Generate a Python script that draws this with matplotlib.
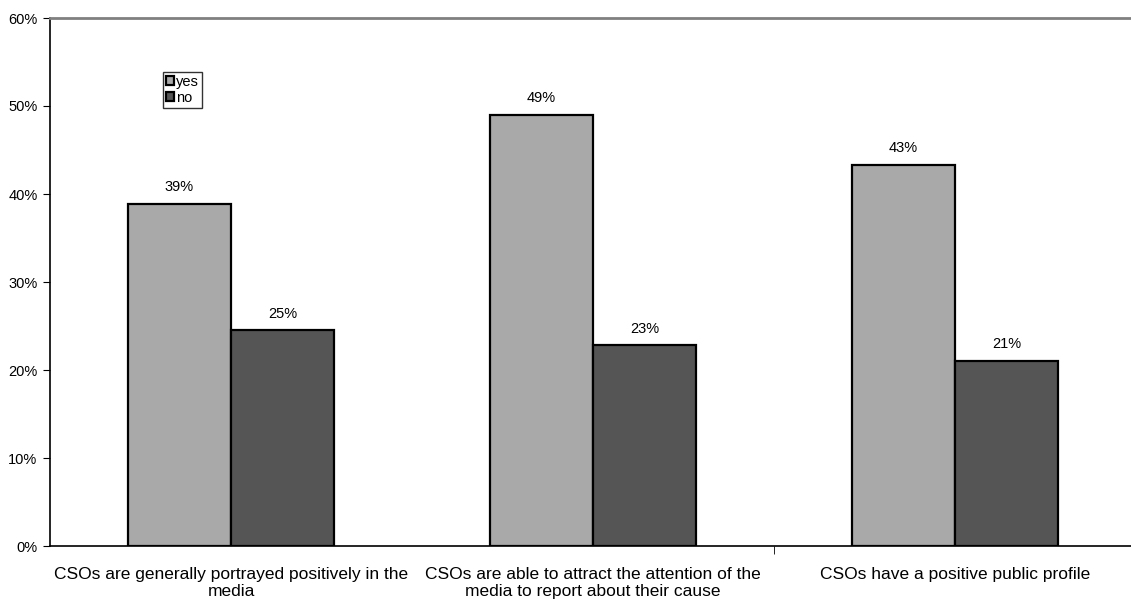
import numpy as np
import matplotlib
matplotlib.use("Agg")
import matplotlib.pyplot as plt
from matplotlib.ticker import FuncFormatter

plt.rcParams['font.family'] = ['Liberation Sans', 'DejaVu Sans']

categories = ["CSOs are generally portrayed positively in the\nmedia",
              "CSOs are able to attract the attention of the\nmedia to report about their cause",
              "CSOs have a positive public profile"]
yes_vals = [38.9, 49.0, 43.3]
no_vals = [24.5, 22.8, 21.0]
yes_labels = ["39%", "49%", "43%"]
no_labels = ["25%", "23%", "21%"]

fig = plt.figure(figsize=(11.31, 5.99), dpi=100)
ax = fig.add_axes([50 / 1131, 53 / 599, 1086 / 1131, 528 / 599])

x = np.arange(len(categories))
w = 0.285
b1 = ax.bar(x - w / 2, yes_vals, w, color='#a9a9a9', edgecolor='black', linewidth=1.6, label='yes')
b2 = ax.bar(x + w / 2, no_vals, w, color='#555555', edgecolor='black', linewidth=1.6, label='no')

for bars, labs in ((b1, yes_labels), (b2, no_labels)):
    for rect, lab in zip(bars, labs):
        ax.annotate(lab, (rect.get_x() + rect.get_width() / 2, rect.get_height()),
                    xytext=(0, 7), textcoords='offset points', ha='center', va='bottom',
                    fontsize=10.5)

ax.set_xlim(-0.5, 2.5)
ax.set_ylim(0, 60)
ax.set_yticks(range(0, 61, 10))
ax.yaxis.set_major_formatter(FuncFormatter(lambda v, p: f"{int(v)}%"))
ax.tick_params(axis='y', labelsize=10.5, length=5, direction='out', pad=4)

ax.set_xticks(x)
ax.set_xticklabels(categories, fontsize=12.5, linespacing=1.15)
ax.tick_params(axis='x', length=0, pad=15)
ax.set_xticks([1.5], minor=True)
ax.tick_params(axis='x', which='minor', length=6, direction='out')

ax.spines['right'].set_visible(False)
ax.spines['top'].set_color('#808080')
ax.spines['top'].set_linewidth(2)
ax.spines['left'].set_linewidth(1.2)
ax.spines['bottom'].set_linewidth(1.2)

leg = ax.legend(loc='upper left', bbox_to_anchor=(0.104, 0.898), fontsize=10.5,
                frameon=True, fancybox=False, edgecolor='black', handlelength=0.55,
                handleheight=0.55, handletextpad=0.15, borderpad=0.2, labelspacing=0.15,
                borderaxespad=0)
leg.get_frame().set_linewidth(1)

fig.savefig("out.png", dpi=100)
